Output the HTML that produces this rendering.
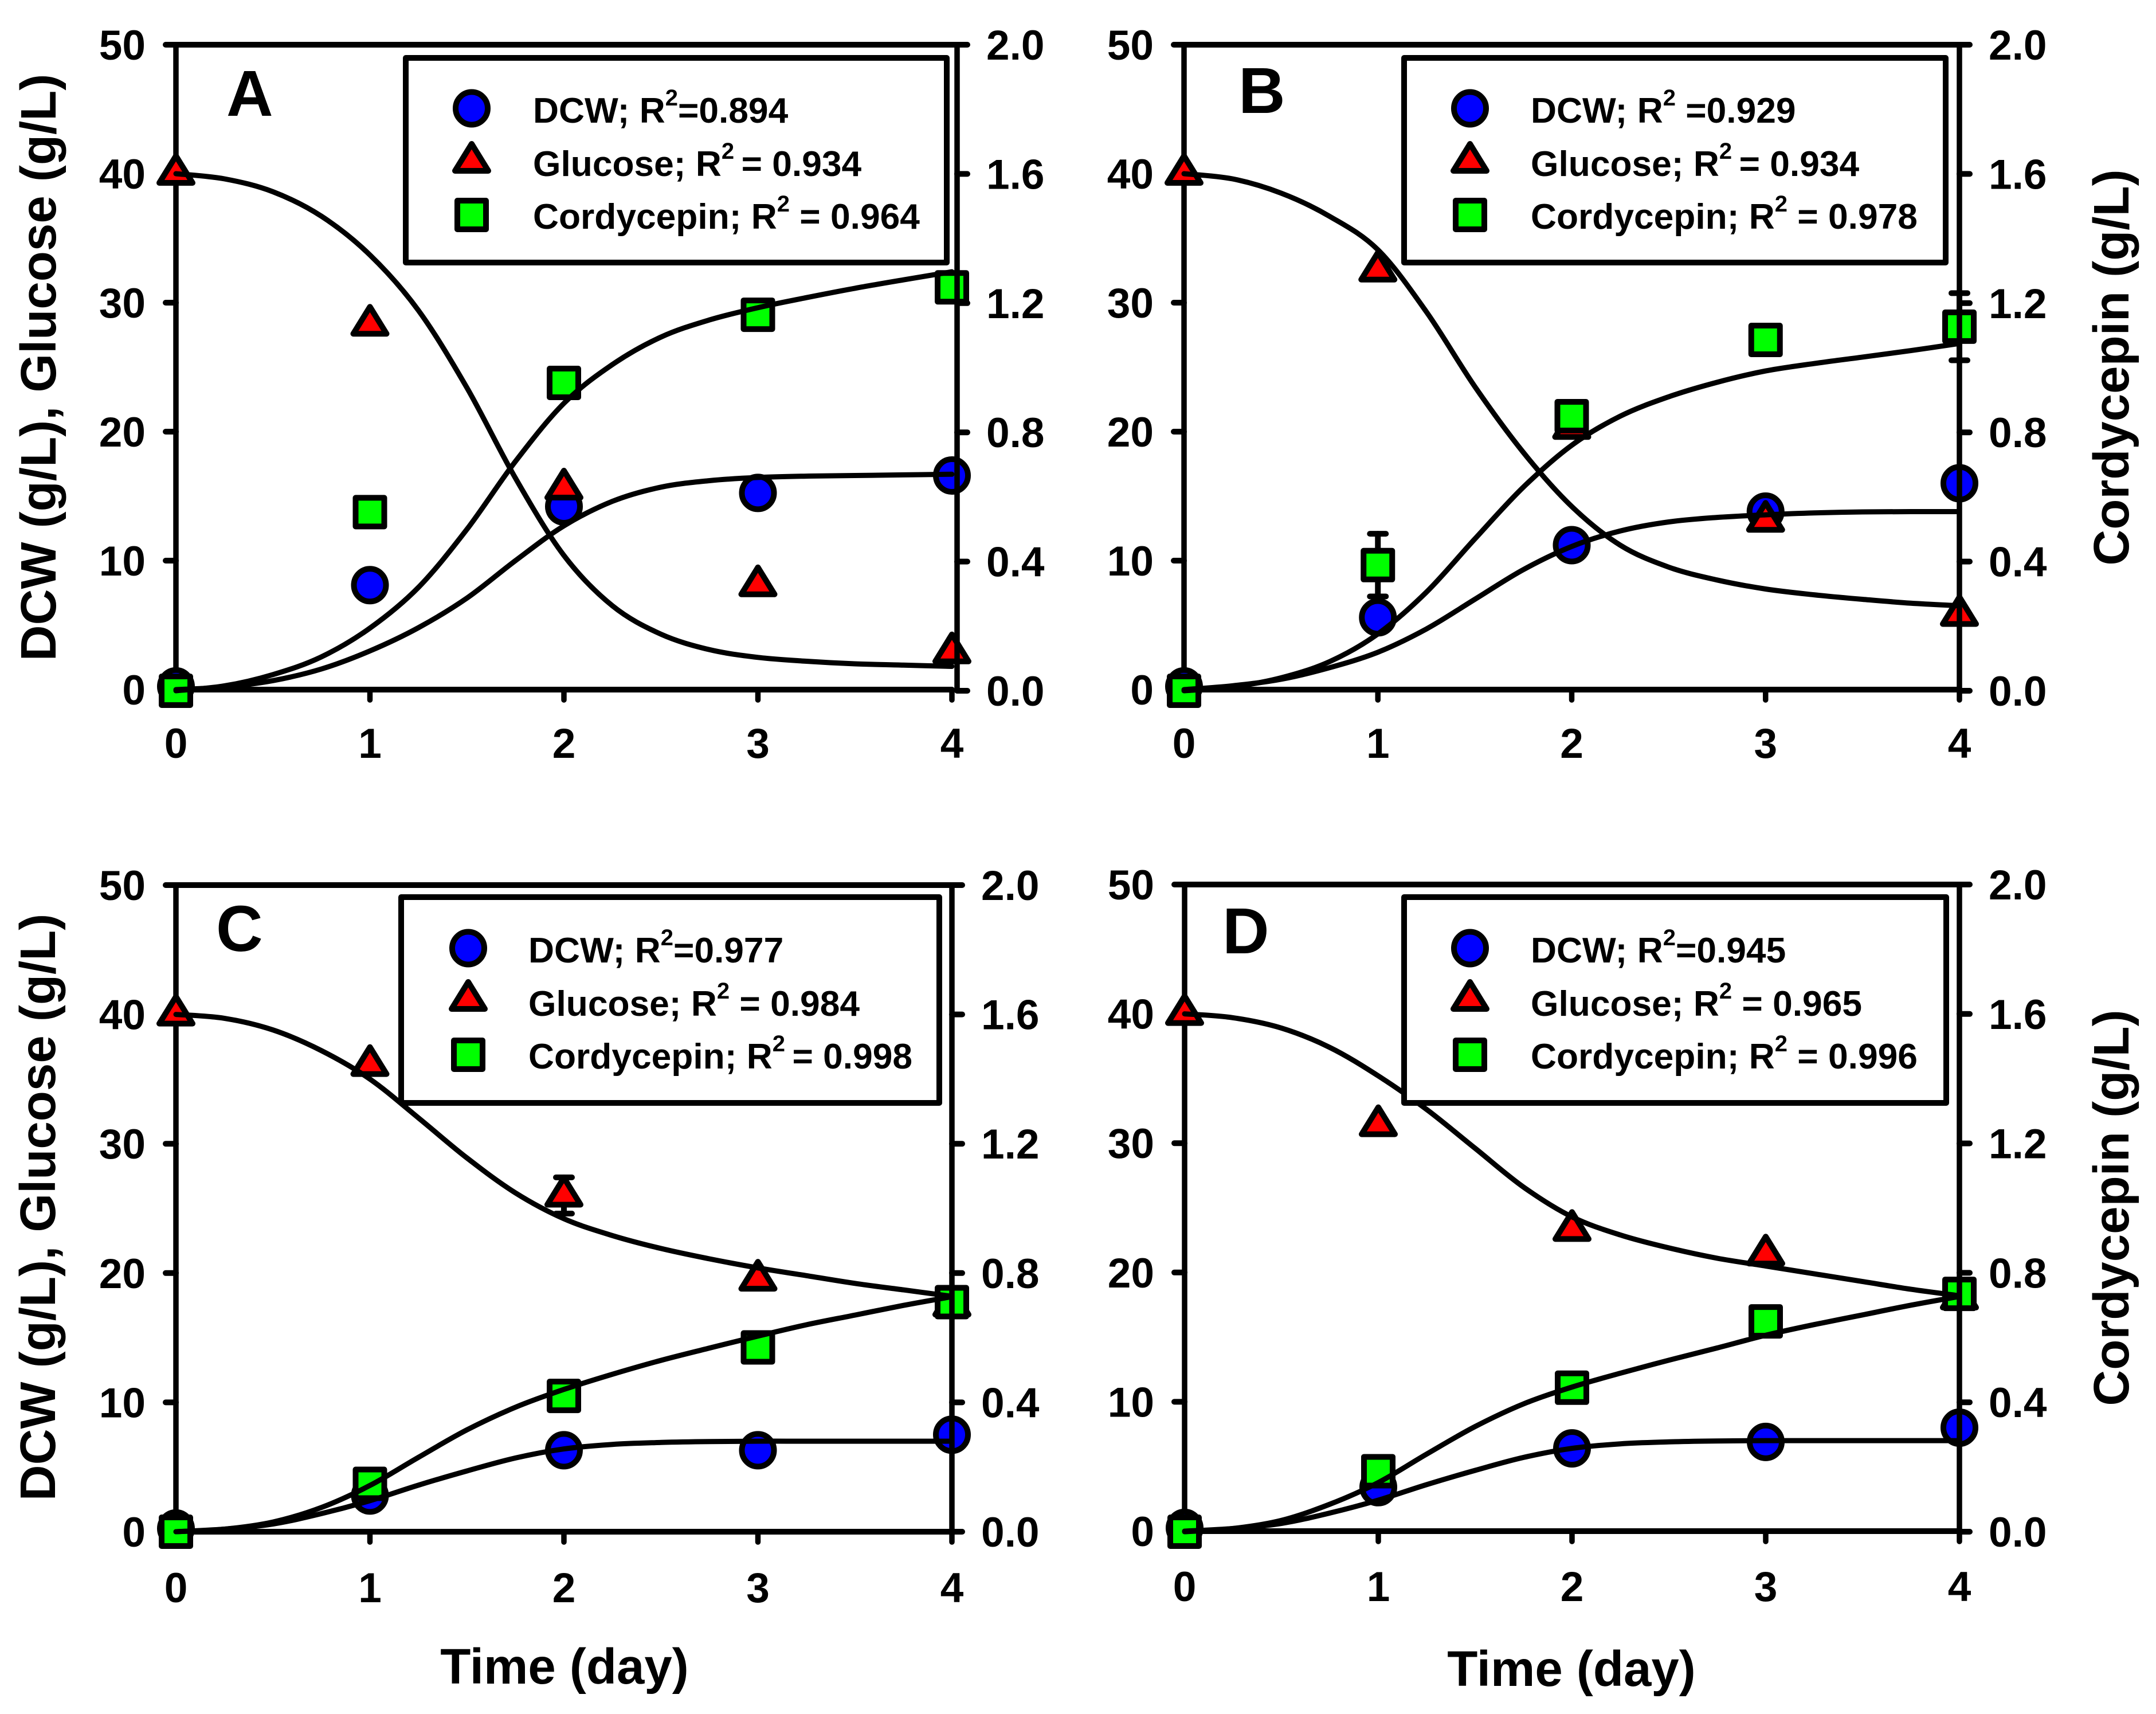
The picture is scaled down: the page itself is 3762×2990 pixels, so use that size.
<!DOCTYPE html>
<html lang="en">
<head>
<meta charset="utf-8">
<title>DCW, glucose and cordycepin time courses</title>
<style>
html,body{margin:0;padding:0;background:#fff;}
svg{display:block;}
text{font-family:"Liberation Sans",Arial,sans-serif;font-weight:bold;fill:#000;white-space:pre;}
</style>
</head>
<body>
<svg id="chart" xmlns="http://www.w3.org/2000/svg" width="3762" height="2990" viewBox="0 0 3762 2990"></svg>
<script>
/* ---------- shared categories and tick labels ---------- */
const markerDays = [0, 1, 2, 3, 4];
const fitDays = [0, 0.25, 0.5, 0.75, 1, 1.25, 1.5, 1.75, 2, 2.25, 2.5, 2.75, 3, 3.25, 3.5, 3.75, 4];
const xTickLabels = ["0", "1", "2", "3", "4"];
const leftTickValues = [0, 10, 20, 30, 40, 50];
const rightTickValues = [0, 0.4, 0.8, 1.2, 1.6, 2.0];
const rightTickLabels = ["0.0", "0.4", "0.8", "1.2", "1.6", "2.0"];

/* ---------- panel A values ---------- */
const dcwPointsA = [0.25, 8.1, 14.2, 15.25, 16.6];
const glucosePointsA = [40, 28.3, 15.6, 8.1, 2.9];
const cordycepinPointsA = [0, 0.553, 0.953, 1.164, 1.249];
const dcwFitA = [0, 0.2, 0.7, 1.6, 3, 4.8, 7.1, 10, 12.7, 14.6, 15.7, 16.2, 16.45, 16.55, 16.6, 16.65, 16.7];
const glucoseFitA = [40, 39.6, 38.6, 36.7, 33.7, 29.4, 23.4, 16.4, 10.4, 6.5, 4.3, 3.1, 2.5, 2.2, 2.0, 1.9, 1.8];
const cordycepinFitA = [0, 0.015, 0.05, 0.105, 0.194, 0.32, 0.5, 0.71, 0.89, 1.01, 1.095, 1.148, 1.186, 1.217, 1.246, 1.272, 1.297];
const legendTextA = [["DCW; R", "=0.894"], ["Glucose; R", "\u2009= 0.934"], ["Cordycepin; R", " = 0.964"]];

/* ---------- panel B values ---------- */
const dcwPointsB = [0.25, 5.6, 11.2, 13.8, 16.0];
const glucosePointsB = [40, 32.5, 20.3, 13.1, 5.8];
const cordycepinPointsB = [0, 0.389, 0.85, 1.086, 1.127];
const cordycepinErrorB = [0, 0.097, 0, 0, 0.104];
const dcwFitB = [0, 0.3, 0.8, 1.7, 2.9, 4.7, 7, 9.3, 11.1, 12.3, 13, 13.35, 13.55, 13.7, 13.78, 13.8, 13.8];
const glucoseFitB = [40, 39.6, 38.5, 36.7, 34.1, 29.3, 23.5, 18.4, 14.2, 11.2, 9.5, 8.5, 7.8, 7.35, 7, 6.7, 6.5];
const cordycepinFitB = [0, 0.012, 0.04, 0.09, 0.176, 0.305, 0.47, 0.63, 0.76, 0.85, 0.91, 0.955, 0.99, 1.013, 1.033, 1.053, 1.075];
const legendTextB = [["DCW; R", " =0.929"], ["Glucose; R", "\u2009= 0.934"], ["Cordycepin; R", " = 0.978"]];

/* ---------- panel C values ---------- */
const dcwPointsC = [0.25, 2.8, 6.3, 6.3, 7.5];
const glucosePointsC = [40, 36.1, 26, 19.5, 17.5];
const glucoseErrorC = [0, 0, 1.4, 0, 0];
const cordycepinPointsC = [0, 0.148, 0.42, 0.57, 0.71];
const dcwFitC = [0, 0.2, 0.6, 1.4, 2.4, 3.6, 4.7, 5.7, 6.4, 6.75, 6.9, 6.97, 7, 7, 7, 7, 7];
const glucoseFitC = [40, 39.7, 38.8, 37.2, 35, 32, 28.9, 26.2, 24.2, 22.9, 21.9, 21.1, 20.4, 19.8, 19.2, 18.7, 18.2];
const cordycepinFitC = [0, 0.008, 0.03, 0.075, 0.143, 0.23, 0.315, 0.385, 0.44, 0.487, 0.53, 0.568, 0.605, 0.64, 0.67, 0.70, 0.727];
const legendTextC = [["DCW; R", "=0.977"], ["Glucose; R", " = 0.984"], ["Cordycepin; R", "\u2009= 0.998"]];

/* ---------- panel D values ---------- */
const dcwPointsD = [0.25, 3.4, 6.4, 6.9, 8.0];
const glucosePointsD = [40, 31.4, 23.3, 21.4, 18.0];
const cordycepinPointsD = [0, 0.187, 0.445, 0.65, 0.735];
const dcwFitD = [0, 0.2, 0.6, 1.4, 2.4, 3.6, 4.7, 5.7, 6.4, 6.75, 6.9, 6.97, 7, 7, 7, 7, 7];
const glucoseFitD = [40, 39.7, 38.9, 37.4, 35.2, 32.6, 29.6, 26.6, 24.3, 22.9, 21.9, 21.1, 20.5, 19.9, 19.3, 18.7, 18.2];
const cordycepinFitD = [0, 0.01, 0.035, 0.085, 0.152, 0.24, 0.325, 0.395, 0.447, 0.49, 0.53, 0.568, 0.607, 0.64, 0.67, 0.70, 0.727];
const legendTextD = [["DCW; R", "=0.945"], ["Glucose; R", " = 0.965"], ["Cordycepin; R", " = 0.996"]];

const svg = document.getElementById('chart');
const NS = 'http://www.w3.org/2000/svg';
const LINE = 9.5;

function add(parent, tag, attrs, content) {
  const el = document.createElementNS(NS, tag);
  for (const k in attrs) el.setAttribute(k, attrs[k]);
  if (content !== undefined) el.textContent = content;
  parent.appendChild(el);
  return el;
}
function seg(parent, x1, y1, x2, y2, width) {
  return add(parent, 'line', {x1: x1, y1: y1, x2: x2, y2: y2, stroke: '#000', 'stroke-width': width || LINE, 'stroke-linecap': 'round'});
}
function drawCircle(parent, cx, cy) {
  return add(parent, 'ellipse', {cx: cx, cy: cy, rx: 28, ry: 28.5, fill: '#0000ff', stroke: '#000', 'stroke-width': 10});
}
function drawTriangle(parent, cx, cy) {
  const pts = (cx - 29) + ',' + (cy + 16) + ' ' + (cx + 29) + ',' + (cy + 16) + ' ' + cx + ',' + (cy - 31);
  return add(parent, 'polygon', {points: pts, fill: '#ff0000', stroke: '#000', 'stroke-width': 10, 'stroke-linejoin': 'round'});
}
function drawSquare(parent, cx, cy) {
  return add(parent, 'rect', {x: cx - 25, y: cy - 25, width: 50, height: 50, fill: '#00ff00', stroke: '#000', 'stroke-width': 10, 'stroke-linejoin': 'round'});
}
function splinePath(xs, ys) {
  let d = 'M' + xs[0].toFixed(1) + ' ' + ys[0].toFixed(1);
  for (let i = 0; i < xs.length - 1; i++) {
    const p = Math.max(i - 1, 0), n = Math.min(i + 2, xs.length - 1);
    const c1x = xs[i] + (xs[i + 1] - xs[p]) / 6, c1y = ys[i] + (ys[i + 1] - ys[p]) / 6;
    const c2x = xs[i + 1] - (xs[n] - xs[i]) / 6, c2y = ys[i + 1] - (ys[n] - ys[i]) / 6;
    d += 'C' + c1x.toFixed(1) + ' ' + c1y.toFixed(1) + ' ' + c2x.toFixed(1) + ' ' + c2y.toFixed(1) + ' ' + xs[i + 1].toFixed(1) + ' ' + ys[i + 1].toFixed(1);
  }
  return d;
}

function drawPanel(p) {
  const g = add(svg, 'g', {});
  
  

  const xScale = function (d) { return p.x0 + (d / 4) * (p.x4 - p.x0); };
  const yLeft = function (v) { return p.yBottom - (v / 50) * (p.yBottom - p.yTop); };
  const yRight = function (v) { return p.yRightBottom - (v / 2) * (p.yRightBottom - p.yTop); };

  /* lower axes: left, top, bottom */
  const lowerAxes = add(g, 'g', {});
  
  
  seg(lowerAxes, p.x0, p.yTop, p.x0, p.yBottom);
  seg(lowerAxes, p.x0, p.yTop, p.rightX, p.yTop, 10);
  seg(lowerAxes, p.x0, p.yBottom, p.x4, p.yBottom, 10);
  leftTickValues.forEach(function (v) {
    const y = yLeft(v);
    const tick = seg(lowerAxes, p.x0 - 18, y, p.x0, y, 10);
    
    
    const label = add(g, 'text', {x: p.x0 - 53, y: y + 26, 'font-size': 73, 'text-anchor': 'end'}, String(v));
    
    
  });
  markerDays.forEach(function (d, i) {
    const x = xScale(d);
    const tick = seg(lowerAxes, x, p.yBottom, x, p.yBottom + 18);
    
    
    const label = add(g, 'text', {x: x, y: p.xLabelY, 'font-size': 73, 'text-anchor': 'middle'}, xTickLabels[i]);
    
    
  });

  /* error bars */
  (p.glucoseErr || []).forEach(function (e, i) {
    if (!e) return;
    const x = xScale(markerDays[i]), hi = yLeft(p.glucose[i] + e), lo = yLeft(p.glucose[i] - e);
    const bar = add(g, 'g', {});
    
    
    seg(bar, x, hi, x, lo, 10);
    seg(bar, x - 14, hi, x + 14, hi, 10);
    seg(bar, x - 14, lo, x + 14, lo, 10);
  });
  (p.cordycepinErr || []).forEach(function (e, i) {
    if (!e) return;
    const x = xScale(markerDays[i]), hi = yRight(p.cordycepin[i] + e), lo = yRight(p.cordycepin[i] - e);
    const bar = add(g, 'g', {});
    
    
    seg(bar, x, hi, x, lo, 10);
    seg(bar, x - 14, hi, x + 14, hi, 10);
    seg(bar, x - 14, lo, x + 14, lo, 10);
  });

  /* markers */
  p.dcw.forEach(function (v, i) {
    const m = drawCircle(g, xScale(markerDays[i]), yLeft(v));
    
    
  });
  p.glucose.forEach(function (v, i) {
    const m = drawTriangle(g, xScale(markerDays[i]), yLeft(v));
    
    
  });
  p.cordycepin.forEach(function (v, i) {
    const m = drawSquare(g, xScale(markerDays[i]), yRight(v));
    
    
  });

  /* fitted curves */
  const fitXs = fitDays.map(xScale);
  const curveStyle = {fill: 'none', stroke: '#000', 'stroke-width': 9, 'stroke-linecap': 'round', 'stroke-linejoin': 'round'};
  const dcwCurve = add(g, 'path', Object.assign({d: splinePath(fitXs, p.dcwFit.map(yLeft))}, curveStyle));
  
  
  const glucoseCurve = add(g, 'path', Object.assign({d: splinePath(fitXs, p.glucoseFit.map(yLeft))}, curveStyle));
  
  
  const cordyCurve = add(g, 'path', Object.assign({d: splinePath(fitXs, p.cordycepinFit.map(yRight))}, curveStyle));
  
  

  /* right axis on top */
  const rightAxis = add(g, 'g', {});
  
  
  seg(rightAxis, p.rightX, p.yTop, p.rightX, p.yRightBottom);
  rightTickValues.forEach(function (v, i) {
    const y = yRight(v);
    const tick = seg(rightAxis, p.rightX, y, p.rightX + 18, y, 10);
    
    
    const label = add(g, 'text', {x: p.rightX + 51, y: y + 26, 'font-size': 73}, rightTickLabels[i]);
    
    
  });

  /* panel letter */
  const letter = add(g, 'text', {x: p.letterX, y: p.letterY, 'font-size': 113}, p.id);
  
  

  /* legend */
  const legend = add(g, 'g', {});
  
  
  add(legend, 'rect', {x: p.legendLeft, y: p.legendTop, width: p.legendRight - p.legendLeft, height: p.legendBottom - p.legendTop, fill: '#fff', stroke: '#000', 'stroke-width': 10, 'stroke-linejoin': 'round'});
  const names = ['dcw', 'glucose', 'cordycepin'];
  const symbols = [drawCircle, drawTriangle, drawSquare];
  p.legendText.forEach(function (parts, i) {
    const row = add(legend, 'g', {});
    
    
    symbols[i](row, p.legendMarkerX, p.legendMarkerY[i]);
    const t = add(row, 'text', {x: p.legendTextX, y: p.legendBaseY[i], 'font-size': 62.3});
    add(t, 'tspan', {}, parts[0]);
    add(t, 'tspan', {dy: -30, 'font-size': 40}, '2');
    add(t, 'tspan', {dy: 30}, parts[1]);
  });

  /* axis titles */
  if (p.leftTitle) {
    const title = add(g, 'text', {transform: 'translate(' + p.leftTitle.x + ' ' + p.leftTitle.y + ') rotate(-90)', 'font-size': 87, 'text-anchor': 'middle'}, 'DCW (g/L), Glucose (g/L)');
    
    
  }
  if (p.rightTitle) {
    const title = add(g, 'text', {transform: 'translate(' + p.rightTitle.x + ' ' + p.rightTitle.y + ') rotate(-90)', 'font-size': 87, 'text-anchor': 'middle'}, 'Cordycepin (g/L)');
    
    
  }
  if (p.xTitle) {
    const title = add(g, 'text', {x: p.xTitle.x, y: p.xTitle.y, 'font-size': 87, 'text-anchor': 'middle'}, 'Time (day)');
    
    
  }
}

drawPanel({
  id: 'A', x0: 307, x4: 1661, rightX: 1670, yTop: 78, yBottom: 1203, yRightBottom: 1205, xLabelY: 1322,
  dcw: dcwPointsA, glucose: glucosePointsA, cordycepin: cordycepinPointsA,
  dcwFit: dcwFitA, glucoseFit: glucoseFitA, cordycepinFit: cordycepinFitA, legendText: legendTextA,
  letterX: 395, letterY: 202,
  legendLeft: 708, legendRight: 1652, legendTop: 101, legendBottom: 458,
  legendMarkerX: 823, legendMarkerY: [189, 282, 375], legendTextX: 930, legendBaseY: [214, 307, 399],
  leftTitle: {x: 97, y: 641}
});
drawPanel({
  id: 'B', x0: 2066, x4: 3419, rightX: 3419, yTop: 78, yBottom: 1203, yRightBottom: 1205, xLabelY: 1322,
  dcw: dcwPointsB, glucose: glucosePointsB, cordycepin: cordycepinPointsB, cordycepinErr: cordycepinErrorB,
  dcwFit: dcwFitB, glucoseFit: glucoseFitB, cordycepinFit: cordycepinFitB, legendText: legendTextB,
  letterX: 2161, letterY: 197,
  legendLeft: 2450, legendRight: 3395, legendTop: 101, legendBottom: 458,
  legendMarkerX: 2565, legendMarkerY: [189, 282, 375], legendTextX: 2671, legendBaseY: [214, 307, 399],
  rightTitle: {x: 3714, y: 641}
});
drawPanel({
  id: 'C', x0: 307, x4: 1661, rightX: 1661, yTop: 1544, yBottom: 2672, yRightBottom: 2672, xLabelY: 2795,
  dcw: dcwPointsC, glucose: glucosePointsC, cordycepin: cordycepinPointsC, glucoseErr: glucoseErrorC,
  dcwFit: dcwFitC, glucoseFit: glucoseFitC, cordycepinFit: cordycepinFitC, legendText: legendTextC,
  letterX: 377, letterY: 1659,
  legendLeft: 700, legendRight: 1639, legendTop: 1565, legendBottom: 1924,
  legendMarkerX: 817, legendMarkerY: [1654, 1744, 1840], legendTextX: 922, legendBaseY: [1679, 1772, 1864],
  leftTitle: {x: 96, y: 2106},
  xTitle: {x: 985, y: 2937}
});
drawPanel({
  id: 'D', x0: 2067, x4: 3419, rightX: 3419, yTop: 1543, yBottom: 2671, yRightBottom: 2672, xLabelY: 2793,
  dcw: dcwPointsD, glucose: glucosePointsD, cordycepin: cordycepinPointsD,
  dcwFit: dcwFitD, glucoseFit: glucoseFitD, cordycepinFit: cordycepinFitD, legendText: legendTextD,
  letterX: 2133, letterY: 1663,
  legendLeft: 2450, legendRight: 3396, legendTop: 1565, legendBottom: 1924,
  legendMarkerX: 2565, legendMarkerY: [1654, 1744, 1840], legendTextX: 2671, legendBaseY: [1679, 1772, 1864],
  rightTitle: {x: 3714, y: 2107},
  xTitle: {x: 2742, y: 2941}
});
</script>
</body>
</html>
